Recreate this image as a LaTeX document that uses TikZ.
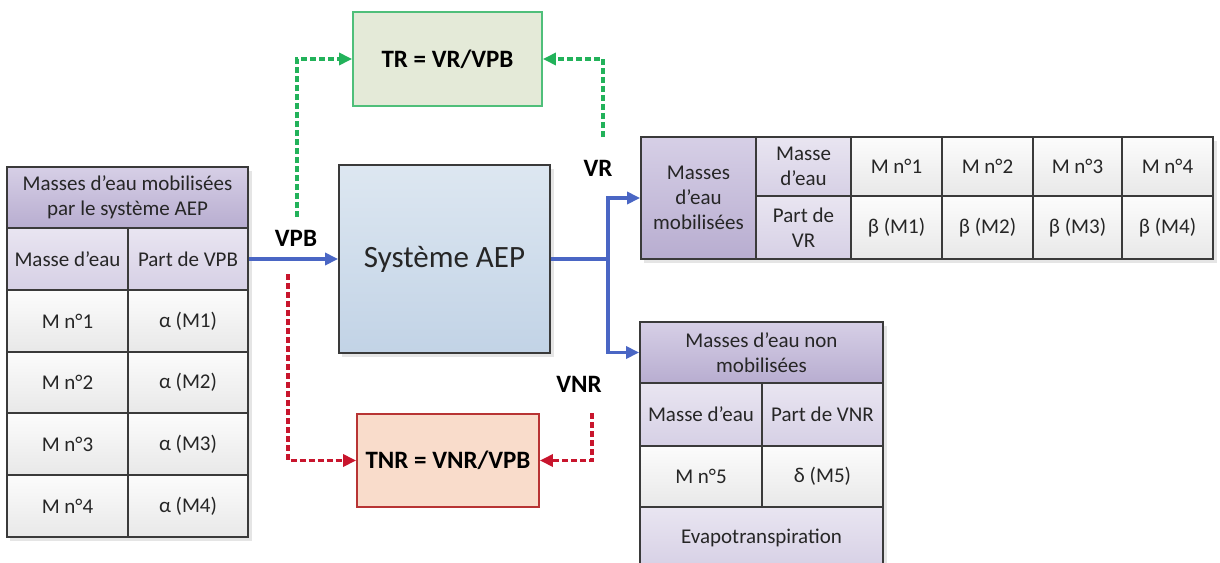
\documentclass[tikz,border=0pt]{standalone}
\usepackage{fontspec}
\setmainfont{Carlito}
\usetikzlibrary{arrows.meta}
\definecolor{cellborder}{HTML}{3A3A3A}
\definecolor{txt}{HTML}{262626}
\definecolor{hdrtop}{HTML}{D6CFE6}
\definecolor{hdrbot}{HTML}{B8ADD0}
\definecolor{subtop}{HTML}{E9E5F1}
\definecolor{subbot}{HTML}{D6D0E5}
\definecolor{dattop}{HTML}{FCFCFC}
\definecolor{datbot}{HTML}{E8E8E8}
\definecolor{systop}{HTML}{DDE7F1}
\definecolor{sysbot}{HTML}{C2D3E6}
\definecolor{bluel}{HTML}{4A66C4}
\definecolor{greenl}{HTML}{22B25A}
\definecolor{redl}{HTML}{C8152D}
\definecolor{trfill}{HTML}{E4EAD8}
\definecolor{trborder}{HTML}{4FBF7A}
\definecolor{tnrfill}{HTML}{F9DCCB}
\definecolor{tnrborder}{HTML}{B83434}
\begin{document}
\begin{tikzpicture}[x=1pt,y=-1pt,
  cell/.style={draw=cellborder, line width=1.8pt, inner sep=0pt, align=center,
    font=\fontsize{21}{25}\selectfont, text=txt},
  hdr/.style={cell, top color=hdrtop, bottom color=hdrbot},
  subc/.style={cell, top color=subtop, bottom color=subbot},
  dat/.style={cell, top color=dattop, bottom color=datbot},
  shadowbox/.style={fill=black, opacity=0.10, draw=none},
  lbl/.style={font=\fontsize{25}{29}\selectfont\bfseries, text=black},
  bluearr/.style={draw=bluel, line width=3.4pt, -{Triangle[length=13pt,width=12pt]}},
  bluepath/.style={draw=bluel, line width=3.4pt},
  greenarr/.style={draw=greenl, line width=3.2pt, dash pattern=on 6pt off 3pt, -{Triangle[length=13pt,width=12pt]}},
  redarr/.style={draw=redl, line width=3.2pt, dash pattern=on 6pt off 3pt, -{Triangle[length=13pt,width=12pt]}}
]
\useasboundingbox (0,0) rectangle (1220,562);

% shadows
\fill[shadowbox] (10,171) rectangle (252,541);
\fill[shadowbox] (644,141) rectangle (1217,263);
\fill[shadowbox] (643,326) rectangle (887,575);
\fill[shadowbox] (342,169) rectangle (554,357);

% central system box
\node[draw=cellborder, line width=1.8pt, top color=systop, bottom color=sysbot,
  minimum width=211, minimum height=188, inner sep=0pt,
  font=\fontsize{31}{35}\selectfont, text=txt] (sys) at (444.5,259) {Système AEP};

% TR and TNR boxes
\node[draw=trborder, line width=1.8pt, fill=trfill, minimum width=189, minimum height=94,
  inner sep=0pt, lbl] (tr) at (447.5,59) {TR = VR/VPB};
\node[draw=tnrborder, line width=1.8pt, fill=tnrfill, minimum width=182, minimum height=93,
  inner sep=0pt, lbl] (tnr) at (448,460.5) {TNR = VNR/VPB};

% left table
\node[hdr, minimum width=241, minimum height=61] (lh) at (127.5,197.5) {Masses d’eau mobilisées\\par le système AEP};
\node[subc, minimum width=121, minimum height=62] (l11) at (67.5,259) {Masse d’eau};
\node[subc, minimum width=120, minimum height=62] (l12) at (188,259) {Part de VPB};
\node[dat, minimum width=121, minimum height=62] (l21) at (67.5,321) {M n°1};
\node[dat, minimum width=120, minimum height=62] (l22) at (188,321) {α (M1)};
\node[dat, minimum width=121, minimum height=61] (l31) at (67.5,382.5) {M n°2};
\node[dat, minimum width=120, minimum height=61] (l32) at (188,382.5) {α (M2)};
\node[dat, minimum width=121, minimum height=62] (l41) at (67.5,444) {M n°3};
\node[dat, minimum width=120, minimum height=62] (l42) at (188,444) {α (M3)};
\node[dat, minimum width=121, minimum height=62] (l51) at (67.5,506) {M n°4};
\node[dat, minimum width=120, minimum height=62] (l52) at (188,506) {α (M4)};

% VR table
\node[hdr, minimum width=115, minimum height=122] (va) at (698.5,198) {Masses\\d’eau\\mobilisées};
\node[subc, minimum width=95, minimum height=59] (vb1) at (803.5,166.5) {Masse\\d’eau};
\node[subc, minimum width=95, minimum height=63] (vb2) at (803.5,227.5) {Part de\\VR};
\node[dat, minimum width=91, minimum height=59] (vc1) at (896.5,166.5) {M n°1};
\node[dat, minimum width=91, minimum height=63] (vc2) at (896.5,227.5) {β (M1)};
\node[dat, minimum width=91, minimum height=59] (vd1) at (987.5,166.5) {M n°2};
\node[dat, minimum width=91, minimum height=63] (vd2) at (987.5,227.5) {β (M2)};
\node[dat, minimum width=89, minimum height=59] (ve1) at (1077.5,166.5) {M n°3};
\node[dat, minimum width=89, minimum height=63] (ve2) at (1077.5,227.5) {β (M3)};
\node[dat, minimum width=91, minimum height=59] (vf1) at (1167.5,166.5) {M n°4};
\node[dat, minimum width=91, minimum height=63] (vf2) at (1167.5,227.5) {β (M4)};

% VNR table
\node[hdr, minimum width=243, minimum height=61] (nh) at (761.5,352.5) {Masses d’eau non\\mobilisées};
\node[subc, minimum width=122, minimum height=63] (n21) at (701,414.5) {Masse d’eau};
\node[subc, minimum width=121, minimum height=63] (n22) at (822.5,414.5) {Part de VNR};
\node[dat, minimum width=122, minimum height=61] (n31) at (701,476.5) {M n°5};
\node[dat, minimum width=121, minimum height=61] (n32) at (822.5,476.5) {δ (M5)};
\node[subc, minimum width=243, minimum height=62] (n4) at (761.5,538) {Evapotranspiration};

% labels
\node[lbl] (lvpb) at (296,238) {VPB};
\node[lbl] (lvr) at (598,168) {VR};
\node[lbl] (lvnr) at (579,384) {VNR};

% blue connectors
\draw[bluearr] (l12.east) -- (sys.west);
\coordinate (jn) at (608,259);
\draw[bluepath] (sys.east) -- (jn);
\draw[bluearr] (jn) |- (va.west);
\draw[bluearr] (jn) |- (nh.west);

% green dashed
\coordinate (gl) at (297,217);
\coordinate (gr) at (603,137);
\draw[greenarr] (gl) |- (tr.west);
\draw[greenarr] (gr) |- (tr.east);

% red dashed
\coordinate (rl) at (288,274);
\coordinate (rr) at (592,413);
\draw[redarr] (rl) |- (tnr.west);
\draw[redarr] (rr) |- (tnr.east);
\end{tikzpicture}
\end{document}
